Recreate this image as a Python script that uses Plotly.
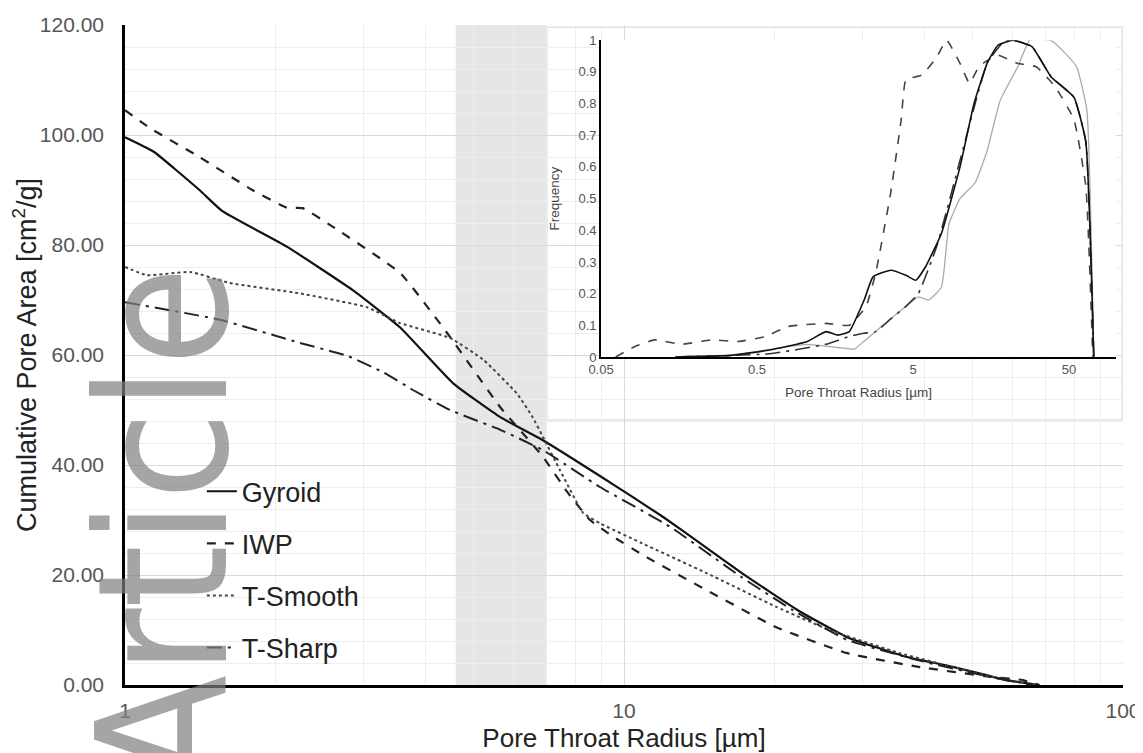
import numpy as np
import plotly.graph_objects as go

# ---------------- main chart data (cumulative pore area) ----------------
gyr_r = [1.0, 1.14, 1.41, 1.565, 2.11, 2.86, 3.56, 4.54, 5.65, 6.88, 8.95, 10.4, 12.0, 14.2, 17.2, 22.3, 28.0, 36.9, 45.6, 58.3, 68]
gyr_a = [99.6, 97, 90, 86.2, 79.7, 71.8, 65.0, 54.9, 48.7, 44.5, 38.0, 34.2, 30.5, 25.8, 20.4, 13.6, 8.7, 5.1, 3.3, 0.9, 0]

iwp_r = [1.0, 1.12, 1.41, 1.8, 2.11, 2.27, 2.61, 3.56, 4.48, 5.65, 6.88, 7.68, 8.55, 9.5, 11.07, 14.6, 20.2, 28, 38.9, 54, 63, 68]
iwp_a = [104.5, 101.3, 96, 90, 86.8, 86.7, 83.3, 74.9, 63.3, 50.5, 41.5, 35.2, 30, 27, 23.3, 17.3, 10.5, 5.8, 3.3, 1.5, 0.9, 0]

tsm_r = [1.0, 1.107, 1.35, 1.62, 2.24, 3.05, 3.56, 4.48, 5.23, 6.1, 6.56, 6.88, 7.44, 8.28, 8.95, 10.85, 14.6, 20.2, 25.8, 35.7, 45.6, 58.3, 68]
tsm_a = [76, 74.5, 75.1, 73.1, 71.2, 68.7, 65.8, 63.1, 59.1, 53, 48.7, 45.1, 39.1, 31.3, 29.4, 25.8, 20.4, 14.2, 10, 5.8, 3.3, 0.9, 0]

tsh_r = [1.0, 1.55, 2.24, 2.8, 3.3, 3.8, 4.48, 5.65, 6.88, 8.95, 12.4, 17.2, 21.8, 28, 38.9, 54, 66]
tsh_a = [69.6, 66.4, 62.2, 59.8, 56.8, 53.5, 50, 46.4, 42.7, 36, 28.7, 19.6, 13.6, 8.2, 4.5, 1.5, 0]

# ---------------- inset data (frequency) ----------------
in_gyr_r = [0.15, 0.336, 0.6, 1.05, 1.38, 1.65, 1.95, 2.43, 2.77, 3.6, 4.5, 5.2, 6.0, 7.6, 10, 12.3, 15, 17.5, 21.8, 28.9, 38.4, 53.7, 64, 72]
in_gyr_f = [0, 0.005, 0.022, 0.049, 0.08, 0.069, 0.08, 0.18, 0.253, 0.274, 0.258, 0.242, 0.284, 0.39, 0.6, 0.8, 0.93, 0.984, 1.0, 0.98, 0.884, 0.82, 0.68, 0]

in_iwp_r = [0.062, 0.08, 0.110, 0.163, 0.257, 0.378, 0.56, 0.79, 1.38, 1.95, 2.5, 2.88, 3.6, 4.2, 4.5, 5.7, 7.1, 8.2, 10, 11.5, 13.2, 15.1, 17.5, 23.3, 30.8, 40.7, 53.7, 64, 71]
in_iwp_f = [0, 0.03, 0.054, 0.04, 0.054, 0.049, 0.064, 0.096, 0.106, 0.10, 0.16, 0.265, 0.52, 0.75, 0.875, 0.89, 0.947, 1.0, 0.927, 0.864, 0.916, 0.937, 0.953, 0.927, 0.916, 0.853, 0.75, 0.54, 0]

in_tsm_r = [0.3, 1.05, 1.65, 2.1, 2.43, 3.2, 4.5, 5.4, 6.3, 7.6, 8.5, 10, 12.5, 14.9, 18.1, 23.4, 28, 38, 47, 56, 65, 72]
in_tsm_f = [0, 0.04, 0.03, 0.025, 0.05, 0.1, 0.16, 0.19, 0.18, 0.22, 0.42, 0.5, 0.55, 0.65, 0.81, 0.915, 1.0, 1.0, 0.96, 0.915, 0.78, 0]

in_tsh_r = [0.15, 0.6, 1.38, 1.95, 2.43, 2.88, 3.6, 4.5, 5.4, 7.1, 10, 12.5, 15, 19.5, 21.8, 28.9, 38.4, 53.7, 64, 72]
in_tsh_f = [0, 0.01, 0.04, 0.065, 0.075, 0.08, 0.12, 0.16, 0.2, 0.35, 0.62, 0.8, 0.93, 1.0, 1.0, 0.98, 0.884, 0.82, 0.68, 0]

band_r = [4.6, 7.0]

fig = go.Figure()

FONT = "Liberation Sans, Arial, sans-serif"

main_styles = [
    ("Gyroid", gyr_r, gyr_a, dict(color="#111111", width=2.2, dash="solid")),
    ("IWP", iwp_r, iwp_a, dict(color="#222222", width=2.2, dash="dash")),
    ("T-Smooth", tsm_r, tsm_a, dict(color="#444444", width=2.0, dash="dot")),
    ("T-Sharp", tsh_r, tsh_a, dict(color="#222222", width=2.0, dash="longdashdot")),
]
for i, (name, xr, ya, ln) in enumerate(main_styles):
    fig.add_trace(go.Scatter(x=xr, y=ya, mode="lines", name=name, line=dict(shape="spline", smoothing=0.4, **ln),
                             legendgroup=f"g{i}", xaxis="x", yaxis="y"))

inset_styles = [
    (in_tsm_r, in_tsm_f, dict(color="#aaaaaa", width=1.3, dash="solid")),
    (in_iwp_r, in_iwp_f, dict(color="#444444", width=1.6, dash="dash")),
    (in_tsh_r, in_tsh_f, dict(color="#333333", width=1.6, dash="longdashdot")),
    (in_gyr_r, in_gyr_f, dict(color="#111111", width=1.6, dash="solid")),
]
for xr, yf, ln in inset_styles:
    fig.add_trace(go.Scatter(x=xr, y=yf, mode="lines", showlegend=False,
                             line=dict(shape="spline", smoothing=0.4, **ln), xaxis="x2", yaxis="y2"))

# shaded band
fig.add_shape(type="rect", xref="x", yref="paper", x0=band_r[0], x1=band_r[1], y0=0, y1=1,
              fillcolor="#e6e6e6", line=dict(width=0), layer="below")
# inset white box
fig.add_shape(type="rect", xref="x2 domain", yref="y2 domain", x0=-0.105, x1=1.012, y0=-0.199, y1=1.041,
              fillcolor="white", line=dict(color="#e2e2e2", width=1.5), layer="below")

fig.add_annotation(text="Article", xref="paper", yref="paper", x=0.039, y=0.241, textangle=-90,
                   xanchor="center", yanchor="middle",
                   showarrow=False, font=dict(family="Liberation Sans Narrow, DejaVu Sans Condensed, Liberation Sans",
                                             size=180, color="rgba(127,127,127,0.7)"))

# page has an 8px body margin: figure is 8px smaller and margins shifted accordingly
fig.update_layout(
    width=1135, height=745,
    margin=dict(l=117, r=20, t=17, b=68, autoexpand=False),
    paper_bgcolor="white", plot_bgcolor="white",
    font=dict(family=FONT, color="#333333"),
    showlegend=True,
    legend=dict(x=0.077, y=0.33, xanchor="left", yanchor="top", bgcolor="rgba(0,0,0,0)",
                font=dict(size=27, color="#222222"), tracegroupgap=14),
    xaxis=dict(type="log", range=[0, 2], domain=[0, 1], anchor="y", automargin=False,
               tickvals=[1, 10, 100], ticktext=["1", "10", "100"],
               showline=True, linecolor="black", linewidth=2.5,
               showgrid=True, gridcolor="#d9d9d9", gridwidth=1,
               minor=dict(showgrid=True, gridcolor="#eeeeee", dtick="D1"),
               tickfont=dict(size=21, color="#555555"), ticks="", ticklabelstandoff=5,
               title=dict(text="Pore Throat Radius [µm]", font=dict(size=26, color="#222222"), standoff=8)),
    yaxis=dict(range=[0, 120], dtick=20, tickformat=".2f", anchor="x", domain=[0, 1], automargin=False,
               showline=True, linecolor="black", linewidth=2.5, zeroline=False,
               showgrid=True, gridcolor="#d9d9d9", gridwidth=1,
               minor=dict(showgrid=True, gridcolor="#eeeeee", dtick=4),
               tickfont=dict(size=21, color="#555555"), ticks="", ticklabelstandoff=14,
               title=dict(text="Cumulative Pore Area [cm<sup>2</sup>/g]", font=dict(size=27, color="#222222"), standoff=5)),
    xaxis2=dict(type="log", range=[np.log10(0.05), 2], domain=[0.477, 0.993], anchor="y2", automargin=False,
                tickvals=[0.05, 0.5, 5, 50], ticktext=["0.05", "0.5", "5", "50"],
                showline=True, linecolor="black", linewidth=1.8, showgrid=False, zeroline=False,
                tickfont=dict(size=13, color="#555555"), ticks="",
                title=dict(text="Pore Throat Radius [µm]", font=dict(size=13.5, color="#444444"), standoff=11)),
    yaxis2=dict(range=[0, 1.0], dtick=0.1, domain=[0.497, 0.977], anchor="x2", automargin=False,
                showline=True, linecolor="black", linewidth=1.8, showgrid=False, zeroline=False,
                tickfont=dict(size=13, color="#555555"), ticks="",
                title=dict(text="Frequency", font=dict(size=13.5, color="#444444"), standoff=16)),
)

fig.write_html("out.html")
